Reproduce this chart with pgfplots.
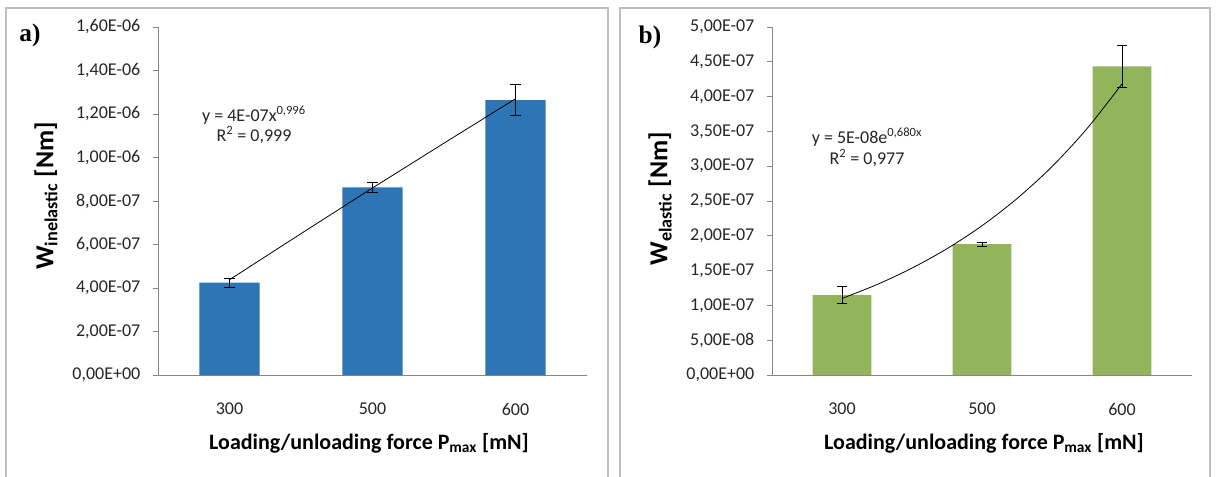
\documentclass[border=0pt]{standalone}
\usepackage{pgfplots}
\pgfplotsset{compat=1.18}
\usepackage{fontspec}
\setmainfont{Carlito}
\newfontfamily\timesfont{Liberation Serif}
\definecolor{barblue}{HTML}{2E75B6}
\definecolor{bargreen}{HTML}{92B45A}
\definecolor{axgray}{HTML}{868686}
\definecolor{framegray}{HTML}{BFBFBF}
\definecolor{txt}{HTML}{262626}

\pgfplotsset{
  panel/.style={
    scale only axis, height=261pt, anchor=south west,
    xmin=-0.5, xmax=2.5, ymin=0,
    axis x line*=bottom, axis y line*=left,
    axis line style={axgray, line width=0.75pt},
    xtick={0,1,2}, xticklabels={300,500,600},
    major x tick style={draw=none},
    major y tick style={axgray, line width=0.75pt},
    tick align=outside, major tick length=3.75pt,
    tick label style={font=\fontsize{13.5}{15}\selectfont, text=txt},
    /pgf/number format/assume math mode=true,
    xticklabel style={anchor=center, yshift=-21.75pt},
    yticklabel style={anchor=east, xshift=-6pt},
    clip=false,
  },
  barstyle/.style={ybar, bar width=0.42, bar shift=0pt, draw=none,
    error bars/y dir=both, error bars/y explicit,
    error bars/error bar style={black, line width=0.6pt},
    error bars/error mark options={rotate=90, mark size=4pt, black, line width=0.6pt}},
  trend/.style={black, line width=0.6pt, no marks},
}

\begin{document}
\begin{tikzpicture}
\useasboundingbox (0,0) rectangle (914.25pt,357pt);
\fill[white] (0,0) rectangle (914.25pt,357pt);
\draw[framegray, line width=1pt] (4.5pt,-3pt) rectangle (456pt,351pt);
\draw[framegray, line width=1pt] (465pt,-3pt) rectangle (907.5pt,351pt);

% ---------- panel a ----------
\begin{axis}[panel, at={(118.5pt,75.75pt)}, width=321.75pt,
  ymax=16, ytick={0,2,4,6,8,10,12,14,16},
  yticklabels={0{,}00E+00,2{,}00E-07,4{,}00E-07,6{,}00E-07,8{,}00E-07,1{,}00E-06,1{,}20E-06,1{,}40E-06,1{,}60E-06}]
\addplot[barstyle, fill=barblue] coordinates {
  (0,4.25)  +- (0,0.207)
  (1,8.63)  +- (0,0.244)
  (2,12.64) +- (0,0.713)};
\addplot[trend, sharp plot] coordinates {
  (0,4.38) (0.5,6.50) (1,8.60) (1.5,10.66) (2,12.70)};
\end{axis}

% ---------- panel b ----------
\begin{axis}[panel, at={(579pt,75.75pt)}, width=315pt,
  ymax=5, ytick={0,0.5,1,1.5,2,2.5,3,3.5,4,4.5,5},
  yticklabels={0{,}00E+00,5{,}00E-08,1{,}00E-07,1{,}50E-07,2{,}00E-07,2{,}50E-07,3{,}00E-07,3{,}50E-07,4{,}00E-07,4{,}50E-07,5{,}00E-07}]
\addplot[barstyle, fill=bargreen] coordinates {
  (0,1.148) +- (0,0.119)
  (1,1.880) +- (0,0.030)
  (2,4.436) +- (0,0.300)};
\addplot[trend, smooth] coordinates {
  (0,1.100) (0.25,1.300) (0.5,1.536) (0.75,1.815) (1,2.145)
  (1.25,2.535) (1.5,2.995) (1.75,3.540) (2,4.183)};
\end{axis}

% ---------- texts ----------
\node[font=\timesfont\bfseries\fontsize{19}{21}\selectfont] at (22.5pt,330.5pt) {a)};
\node[font=\timesfont\bfseries\fontsize{19}{21}\selectfont] at (487.5pt,329pt) {b)};

\node[font=\fontsize{13.5}{15.5}\selectfont, text=txt, align=center] at (190.5pt,263.25pt)
  {y = 4E-07x\textsuperscript{0,996}\\R\textsuperscript{2} = 0,999};
\node[font=\fontsize{13.5}{15.5}\selectfont, text=txt, align=center] at (650.25pt,246.4pt)
  {y = 5E-08e\textsuperscript{0,680x}\\R\textsuperscript{2} = 0,977};

\node[font=\bfseries\fontsize{19.5}{22}\selectfont, rotate=90] at (34.5pt,210pt)
  {W\textsubscript{inelastic} [Nm]};
\node[font=\bfseries\fontsize{19.5}{22}\selectfont, rotate=90] at (495pt,208pt)
  {W\textsubscript{elastic} [Nm]};

\node[font=\bfseries\fontsize{16.5}{19}\selectfont] at (276.75pt,24.75pt)
  {Loading/unloading force P\textsubscript{max} [mN]};
\node[font=\bfseries\fontsize{16.5}{19}\selectfont] at (738pt,24.75pt)
  {Loading/unloading force P\textsubscript{max} [mN]};
\end{tikzpicture}
\end{document}
